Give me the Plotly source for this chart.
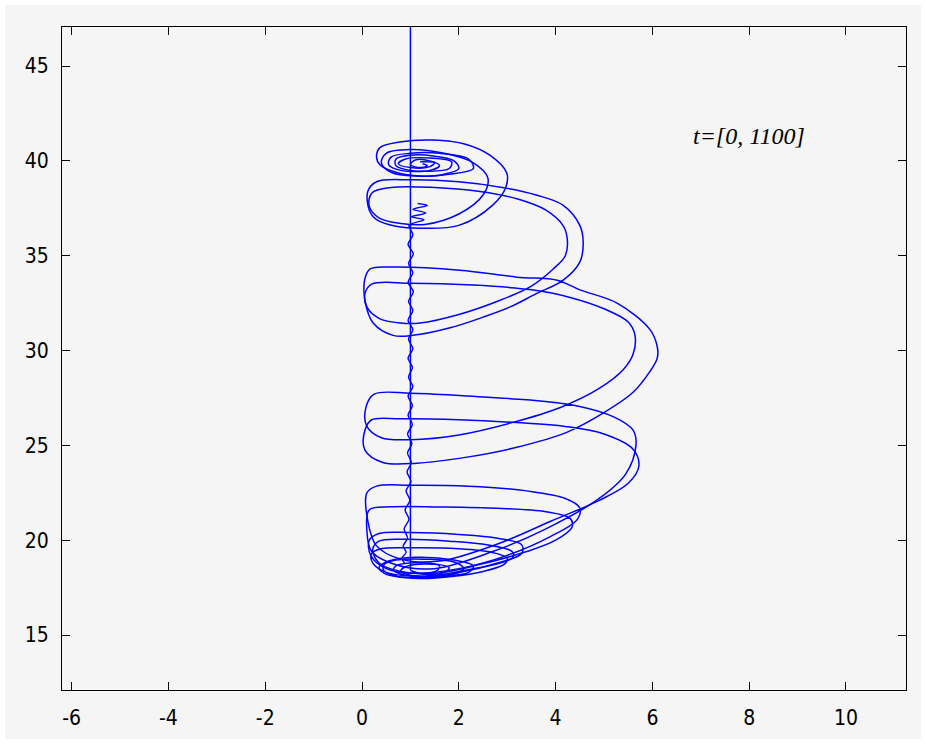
import plotly.graph_objects as go

# initial fall along x = 1
drop_x = [1.0, 1.0]
drop_y = [48.5, 18.4]

# first burst: spiral growing out of the lower focus, then winding in near the top
burst1_x = [1.0, 1.3, 1.7, 1.8, 1.5, 1.0, 0.7, 0.65, 0.9, 1.4, 1.9, 2.1, 1.9, 1.3, 0.7, 0.45, 0.45, 0.7, 1.2,
            1.9, 2.5, 2.95, 3.0, 2.7, 2.0, 1.0, 0.4, 0.2, 0.22, 0.5,
            1.2, 2.0, 2.8, 3.3, 3.3, 2.8, 2.0, 1.0, 0.35, 0.15, 0.18, 0.5, 1.1,
            2.0, 3.0, 3.9, 4.45, 4.5, 4.2, 3.4, 2.2, 1.0, 0.3, 0.1, 0.12, 0.3, 0.8,
            1.6, 2.8, 3.9, 4.9, 5.5, 5.72, 5.6, 5.0, 4.2, 3.2, 2.0, 0.8, 0.2, 0.06, 0.06, 0.43, 1.14,
            2.17, 3.2, 4.24, 4.98, 5.6, 5.95, 6.1, 6.1, 5.95, 5.27, 4.5, 4.03, 3.2, 2.02, 0.6, 0.17, 0.06, 0.06, 0.23, 0.64, 1.05,
            1.82, 2.5, 3.06, 3.6, 4.15, 4.5, 4.57, 4.5, 4.15, 3.6, 2.9, 2.0, 1.0, 0.3, 0.12, 0.15, 0.3, 0.7, 1.2,
            2.0, 2.7, 2.97, 2.99, 2.64, 2.1, 1.47, 0.78, 0.37, 0.3, 0.37, 0.7, 1.2,
            1.8, 2.3, 2.2, 1.6, 1.0, 0.6, 0.55, 0.8, 1.3, 1.8, 1.85, 1.4, 0.9, 0.75, 1.0, 1.4, 1.5, 1.2]
burst1_y = [18.4, 18.2, 18.3, 18.55, 18.75, 18.8, 18.65, 18.4, 18.15, 18.05, 18.2, 18.5, 18.85, 19.0, 18.95, 18.7, 18.4, 18.1, 17.98,
            18.1, 18.35, 18.75, 19.05, 19.35, 19.55, 19.6, 19.55, 19.3, 18.8, 18.3,
            18.1, 18.3, 18.8, 19.3, 19.75, 20.1, 20.3, 20.4, 20.35, 20.0, 19.2, 18.5, 18.25,
            18.5, 19.2, 20.2, 21.1, 21.7, 22.2, 22.6, 22.85, 22.9, 22.85, 22.5, 21.0, 19.7, 19.0,
            18.9, 19.8, 21.0, 22.1, 23.0, 23.9, 24.8, 25.6, 26.0, 26.2, 26.35, 26.4, 26.35, 25.8, 24.75, 24.1, 24.06,
            24.38, 24.9, 25.7, 26.7, 27.8, 28.9, 29.6, 30.2, 31.1, 32.5, 33.2, 33.71, 33.87, 34.24, 34.4, 34.3, 33.8, 32.66, 31.45, 30.8, 30.8,
            31.2, 31.76, 32.3, 33.0, 33.7, 34.66, 35.7, 36.6, 37.67, 38.2, 38.6, 38.9, 39.0, 38.9, 38.4, 37.4, 36.9, 36.55, 36.45,
            36.6, 37.67, 38.6, 39.36, 40.3, 40.9, 41.1, 41.0, 40.7, 40.2, 39.8, 39.4, 39.2,
            39.3, 39.6, 40.1, 40.4, 40.4, 40.2, 39.8, 39.5, 39.45, 39.6, 39.95, 40.15, 40.1, 39.85, 39.65, 39.7, 39.9, 39.95]

# slow descent with small ripples back towards the lower focus
ripple_x = [1.15, 1.35, 1.05, 1.32, 1.02, 1.28, 0.97, 1.05, 0.95, 1.06, 0.96, 1.05, 0.95, 1.06, 0.96, 1.05, 0.95, 1.05,
            0.96, 1.05, 0.95, 1.04, 0.96, 1.05, 0.95, 1.04, 0.95, 1.04, 0.94, 1.03, 0.94, 1.02, 0.93, 1.01, 0.91,
            0.99, 0.89, 0.97, 0.87, 0.94, 0.85, 0.91, 0.82, 0.88]
ripple_y = [37.75, 37.65, 37.45, 37.25, 37.05, 36.9, 36.6, 36.1, 35.6, 35.1, 34.6, 34.1, 33.6, 33.1, 32.6, 32.1, 31.6, 31.1,
            30.6, 30.1, 29.6, 29.1, 28.6, 28.1, 27.6, 27.1, 26.6, 26.1, 25.6, 25.1, 24.6, 24.1, 23.6, 23.1, 22.6,
            22.1, 21.6, 21.1, 20.6, 20.1, 19.7, 19.35, 19.05, 18.8]

# second burst, slightly offset from the first
burst2_x = [0.9, 1.2, 1.55, 1.6, 1.3, 0.9, 0.8, 1.0, 1.5, 2.2, 2.3, 1.9, 1.1, 0.55, 0.35, 0.5, 0.95,
            1.7, 2.3, 2.8, 3.12, 3.1, 2.6, 1.8, 0.9, 0.35, 0.22, 0.35, 0.8,
            1.5, 2.4, 3.4, 4.0, 4.34, 4.3, 3.8, 2.8, 1.6, 0.6, 0.15, 0.1, 0.2, 0.7,
            1.5, 2.7, 3.8, 4.9, 5.45, 5.66, 5.6, 5.2, 4.4, 3.4, 2.2, 1.0, 0.25, 0.08, 0.1, 0.4, 1.0,
            2.0, 3.1, 4.1, 4.9, 5.4, 5.6, 5.64, 5.5, 5.0, 4.3, 3.5, 2.3, 1.0, 0.2, 0.06, 0.1, 0.35, 0.8, 1.2,
            2.0, 2.8, 3.5, 3.95, 4.2, 4.24, 4.15, 3.8, 3.2, 2.4, 1.5, 0.6, 0.2, 0.15, 0.35, 0.8, 1.3,
            2.0, 2.5, 2.6, 2.3, 1.7, 1.0, 0.5, 0.4, 0.6, 1.1,
            1.7, 2.0, 1.9, 1.5, 1.0, 0.7, 0.7, 1.0, 1.4, 1.6, 1.4, 1.1, 1.0, 1.2, 1.35, 1.25]
burst2_y = [18.3, 18.25, 18.4, 18.65, 18.75, 18.6, 18.35, 18.15, 18.1, 18.3, 18.65, 18.95, 19.1, 18.9, 18.55, 18.2, 18.05,
            18.2, 18.5, 18.75, 19.1, 19.4, 19.75, 19.95, 20.05, 19.95, 19.5, 18.8, 18.35,
            18.25, 18.7, 19.4, 20.0, 20.7, 21.15, 21.5, 21.68, 21.75, 21.76, 21.6, 20.5, 19.4, 18.7,
            18.5, 19.4, 20.6, 22.2, 23.5, 25.0, 25.8, 26.5, 27.1, 27.4, 27.6, 27.75, 27.7, 27.0, 26.0, 25.4, 25.3,
            25.55, 26.2, 27.0, 28.0, 29.0, 29.8, 30.8, 31.5, 32.2, 32.8, 33.2, 33.45, 33.55, 33.5, 33.0, 32.3, 31.7, 31.45, 31.45,
            31.9, 32.6, 33.4, 34.3, 35.0, 35.9, 36.6, 37.4, 38.0, 38.4, 38.6, 38.6, 38.3, 37.6, 37.0, 36.7, 36.65,
            37.2, 38.2, 39.1, 39.9, 40.4, 40.6, 40.4, 39.9, 39.4, 39.2,
            39.3, 39.6, 40.0, 40.25, 40.3, 40.1, 39.75, 39.5, 39.5, 39.75, 40.0, 40.05, 39.8, 39.65, 39.75, 39.85]

x_ticks = [-6, -4, -2, 0, 2, 4, 6, 8, 10]
y_ticks = [15, 20, 25, 30, 35, 40, 45]
time_label = "t=[0, 1100]"

blue = "#0000ff"
straight = dict(color=blue, width=1.5)
curved = dict(color=blue, width=1.5, shape="spline", smoothing=1.0)

fig = go.Figure()
fig.add_trace(go.Scatter(x=drop_x, y=drop_y, mode="lines", line=straight, hoverinfo="skip"))
fig.add_trace(go.Scatter(x=burst1_x, y=burst1_y, mode="lines", line=curved, hoverinfo="skip"))
fig.add_trace(go.Scatter(x=ripple_x, y=ripple_y, mode="lines",
                         line=dict(color=blue, width=1.4, shape="spline", smoothing=0.8), hoverinfo="skip"))
fig.add_trace(go.Scatter(x=burst2_x, y=burst2_y, mode="lines", line=curved, hoverinfo="skip"))

fig.add_annotation(x=8.0, y=41.3, text=time_label, showarrow=False,
                   font=dict(family="Liberation Serif", size=24, color="black", style="italic"))

W, H = 926, 745
L, R, T, B = 62, 20, 27, 55
pw, ph = W - L - R, H - T - B


def px_to_paper(px, py):
    return (px - L) / pw, (H - B - py) / ph


x0, y0 = px_to_paper(5, 5)
x1, y1 = px_to_paper(921, 739)
fig.add_shape(type="rect", xref="paper", yref="paper", x0=x0, y0=y1, x1=x1, y1=y0,
              fillcolor="#f5f5f5", line=dict(width=0), layer="below")

axis_font = dict(family="DejaVu Sans Condensed, Liberation Sans, sans-serif", size=21, color="black")
common = dict(showgrid=False, zeroline=False, showline=True, linecolor="black", linewidth=1,
              mirror="ticks", ticks="inside", ticklen=8, tickwidth=1, tickcolor="black",
              tickfont=axis_font, fixedrange=True)
fig.update_xaxes(range=[-6.2, 11.24], tickvals=x_ticks, ticktext=[str(v) for v in x_ticks],
                 ticklabelstandoff=9, **common)
fig.update_yaxes(range=[12.1, 47.06], tickvals=y_ticks, ticktext=[str(v) for v in y_ticks],
                 ticklabelstandoff=8, **common)

fig.update_layout(width=W, height=H, margin=dict(l=L, r=R, t=T, b=B),
                  paper_bgcolor="white", plot_bgcolor="#f5f5f5", showlegend=False)

fig.write_html("out.html")
